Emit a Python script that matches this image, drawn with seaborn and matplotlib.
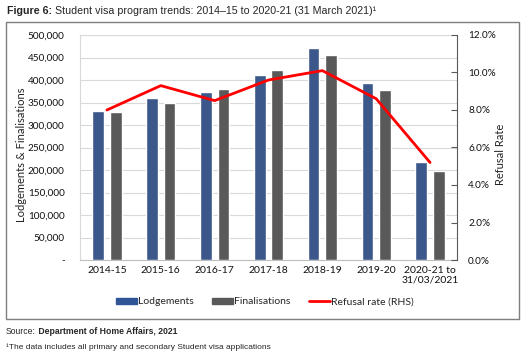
import numpy as np
import pandas as pd
import seaborn as sns
import matplotlib.pyplot as plt
from matplotlib.patches import Rectangle, Patch
from matplotlib.lines import Line2D
from matplotlib.ticker import FuncFormatter

years = ['2014-15', '2015-16', '2016-17', '2017-18', '2018-19', '2019-20', '2020-21 to\n31/03/2021']
lodgements = [332000, 360000, 374000, 412000, 472000, 394000, 218000]
finalisations = [330000, 348000, 379000, 422000, 456000, 378000, 198000]
refusal_rate = [8.0, 9.3, 8.5, 9.6, 10.1, 8.6, 5.2]

blue = '#2F5597'
grey = '#595959'
red = '#FF0000'

sns.set_style('white')
plt.rcParams['font.family'] = ['Lato', 'DejaVu Sans']

df = pd.DataFrame({'year': years * 2,
                   'value': lodgements + finalisations,
                   'series': ['Lodgements'] * len(years) + ['Finalisations'] * len(years)})

fig = plt.figure(figsize=(5.28, 3.64), dpi=100)
ax = fig.add_axes([80 / 528, 1 - 260 / 364, 377 / 528, 225 / 364])

sns.barplot(df, x='year', y='value', hue='series', palette=[blue, grey],
            width=0.65, gap=0.33, ax=ax, legend=False, zorder=3)
ax.set_xlim(-0.5, len(years) - 0.5)
ax.set_ylim(0, 500000)
ax.set_yticks(range(0, 500001, 50000))
ax.yaxis.set_major_formatter(FuncFormatter(lambda v, p: '-' if v == 0 else f'{int(v):,}'))
ax.grid(axis='y', color='#d9d9d9', lw=0.8, zorder=0)
ax.set_axisbelow(True)
ax.set_xlabel('')
ax.set_ylabel('Lodgements & Finalisations', fontsize=8, color='#222222')
ax.yaxis.set_label_coords(-0.14, 0.47)
ax.tick_params(axis='y', labelsize=7.2, length=0, pad=11, colors='#111111')
ax.tick_params(axis='x', which='major', labelsize=7.5, length=0, pad=4, colors='#111111')
ax.set_xticks(np.arange(-0.5, len(years), 1), minor=True)
ax.tick_params(axis='x', which='minor', length=4, color='#d9d9d9', width=0.8)
for s in ['top', 'right']:
    ax.spines[s].set_visible(False)
ax.spines['left'].set_color('#d9d9d9')
ax.spines['bottom'].set_color('#bfbfbf')

ax2 = ax.twinx()
sns.lineplot(x=np.arange(len(years)), y=refusal_rate, color=red, lw=2, ax=ax2)
ax2.set_ylim(0, 12)
ax2.set_yticks(range(0, 13, 2))
ax2.yaxis.set_major_formatter(FuncFormatter(lambda v, p: f'{v:.1f}%'))
ax2.set_ylabel('Refusal Rate', fontsize=8, color='#222222')
ax2.yaxis.set_label_coords(1.10, 0.47)
ax2.tick_params(axis='y', labelsize=7.2, length=4, direction='in', pad=8, colors='#111111')
ax2.tick_params(axis='y', color='#595959')
for s in ['top', 'left', 'bottom']:
    ax2.spines[s].set_visible(False)
ax2.spines['right'].set_color('#595959')

handles = [Patch(color=blue, label='Lodgements'),
           Patch(color=grey, label='Finalisations'),
           Line2D([0], [0], color=red, lw=2, label='Refusal rate (RHS)')]
fig.legend(handles=handles, loc='center', bbox_to_anchor=(265 / 528, 1 - 302 / 364), ncol=3,
           frameon=False, fontsize=7.5, handlelength=2.0, handleheight=0.6, columnspacing=1.8,
           handletextpad=0.1)

fig.patches.append(Rectangle((6 / 528, 1 - 319 / 364), 513 / 528, 297 / 364, transform=fig.transFigure,
                             fill=False, edgecolor='#7f7f7f', lw=1))

tfont = ['Liberation Sans', 'DejaVu Sans']
t1 = fig.text(7 / 528, 1 - 11 / 364, 'Figure 6:', fontsize=7.7, fontweight='bold', family=tfont, va='center')
ax.annotate(' Student visa program trends: 2014\u201315 to 2020-21 (31 March 2021)\u00b9', xy=(1, 0.5),
            xycoords=t1, va='center', fontsize=7.7, family=tfont, annotation_clip=False)
s1 = fig.text(6 / 528, 1 - 332 / 364, 'Source:', fontsize=6.2, family=tfont, va='center')
ax.annotate(' Department of Home Affairs, 2021', xy=(1, 0.5), xycoords=s1, va='center',
            fontsize=6.2, fontweight='bold', family=tfont, annotation_clip=False)
fig.text(6 / 528, 1 - 347 / 364, '\u00b9The data includes all primary and secondary Student visa applications',
         fontsize=6, family=tfont, va='center')

fig.savefig('out.png', dpi=100)
